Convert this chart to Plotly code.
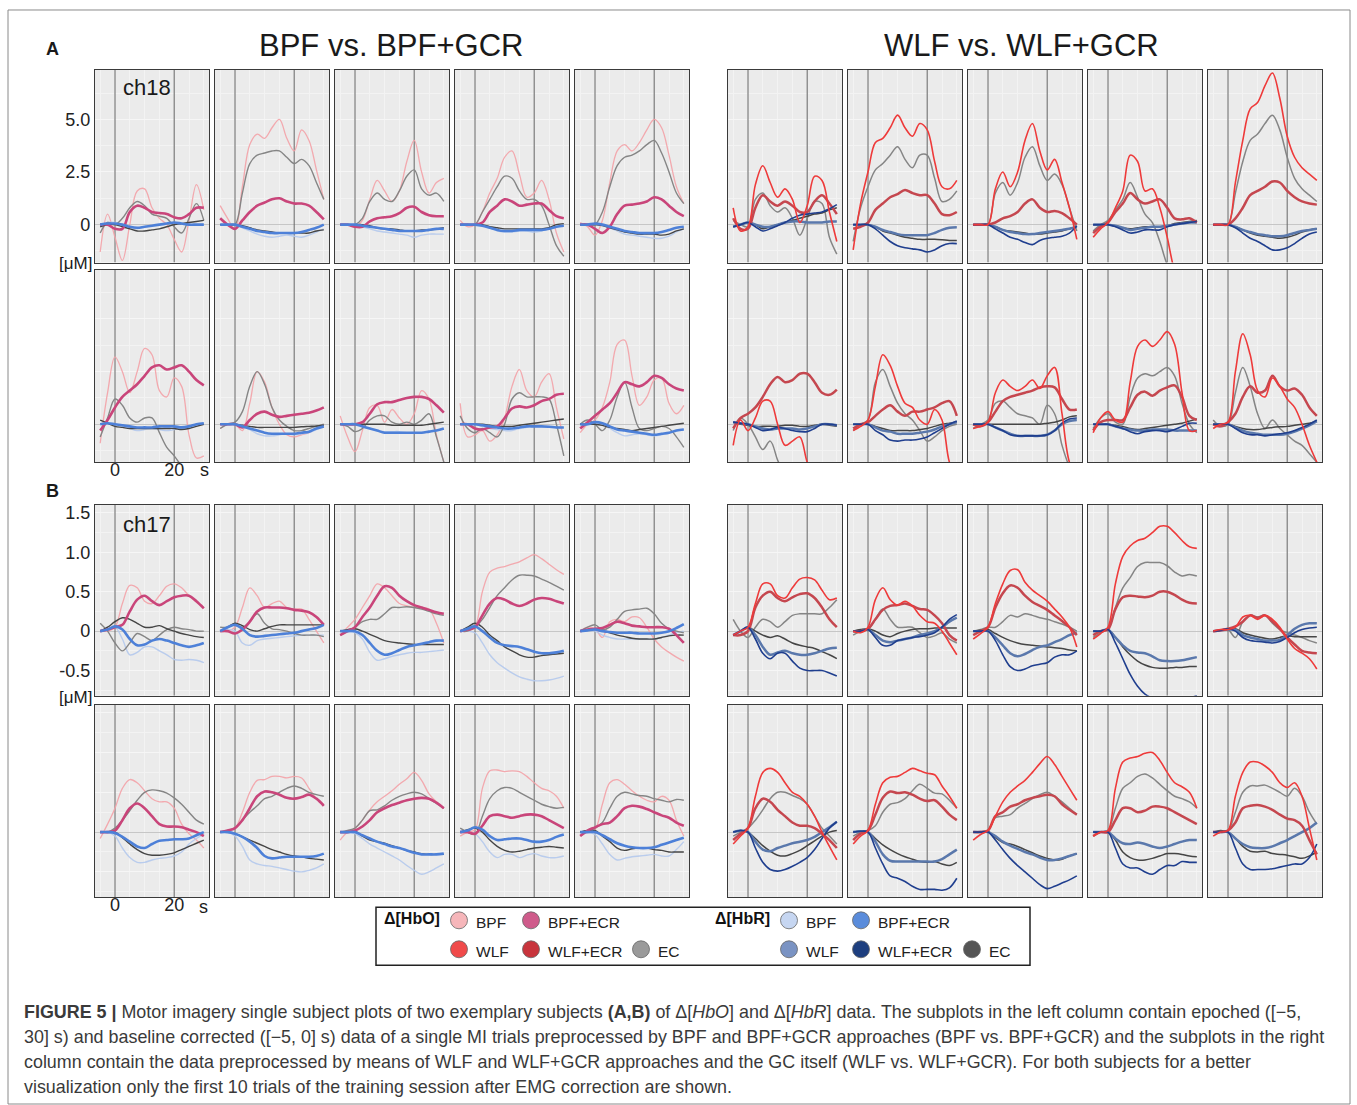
import plotly.graph_objects as go

W, H = 1357, 1105
TIME = [-5, -2.5, 0, 2.5, 5, 7.5, 10, 12.5, 15, 17.5, 20, 22.5, 25, 27.5, 30]

# ---------------- Subject A, left block (BPF vs. BPF+GCR) ----------------
A_BPF_HBO = [
    [-1.3, 0.5, -0.6, -1.7, 0.0, 1.6, 1.7, 0.8, 0.3, 0.0, -0.7, -1.3, 0.2, 1.9, 0.7],
    [0.9, 0.3, -0.2, 1.8, 3.8, 4.3, 4.1, 4.6, 5.0, 4.1, 3.5, 4.5, 4.0, 2.6, 1.2],
    [0.0, 0.0, -0.1, 0.2, 1.2, 2.1, 1.6, 1.1, 1.6, 3.0, 4.0, 2.5, 1.5, 2.0, 2.2],
    [0.2, -0.1, 0.0, 0.6, 1.5, 2.2, 3.2, 3.5, 2.4, 1.3, 1.5, 2.1, 1.2, -0.4, -1.3],
    [0.1, -0.1, -0.5, 0.2, 2.0, 3.5, 3.8, 3.5, 3.9, 4.5, 5.0, 4.6, 3.3, 1.8, 1.0],
    [-0.9, 1.5, 3.2, 2.5, 1.5, 2.5, 3.6, 3.3, 1.6, 1.3, 2.2, 1.8, -0.5, -1.6, -1.5],
    [-0.2, 0.0, 0.0, -0.3, 1.0, 2.5, 2.0, 0.8, 0.0, -0.5, -0.6, -0.5, -0.4, -0.2, 0.0],
    [0.4, -0.6, -1.3, -0.3, 0.8, 0.9, 0.1, 0.7, 0.3, 0.0, 0.5, 1.6, 1.2, -0.5, -1.8],
    [1.0, -0.6, -0.5, -0.3, -0.8, -0.5, 0.3, 1.8, 2.6, 1.6, 1.3, 2.0, 2.4, 0.8, -0.7],
    [-0.4, 0.0, 0.2, 0.8, 2.0, 3.8, 4.0, 2.3, 0.9, 1.3, 2.1, 2.2, 1.0, 0.5, 0.9],
]
A_BPFECR_HBO = [
    [0.0, 0.0, -0.2, -0.2, 0.6, 0.9, 0.8, 0.6, 0.55, 0.5, 0.35, 0.3, 0.5, 0.8, 0.8],
    [0.3, 0.0, -0.2, 0.2, 0.6, 0.9, 1.05, 1.2, 1.25, 1.1, 1.0, 1.0, 0.9, 0.6, 0.25],
    [0.0, 0.0, -0.1, -0.1, 0.15, 0.3, 0.35, 0.4, 0.55, 0.8, 0.85, 0.6, 0.45, 0.4, 0.4],
    [0.0, 0.0, 0.0, 0.1, 0.6, 0.9, 1.2, 1.1, 0.9, 0.95, 1.0, 1.0, 0.7, 0.4, 0.3],
    [0.0, 0.0, -0.2, -0.4, -0.1, 0.5, 0.9, 0.95, 1.0, 1.1, 1.3, 1.2, 0.9, 0.6, 0.4],
    [-0.3, 0.2, 0.8, 1.3, 1.6, 1.9, 2.3, 2.7, 2.8, 2.6, 2.7, 2.8, 2.5, 2.1, 1.85],
    [0.0, 0.0, 0.0, -0.15, 0.2, 0.5, 0.6, 0.45, 0.35, 0.4, 0.45, 0.5, 0.55, 0.65, 0.8],
    [0.0, 0.0, 0.0, 0.1, 0.5, 0.95, 1.05, 1.05, 1.15, 1.25, 1.3, 1.3, 1.2, 0.9, 0.55],
    [0.0, 0.0, -0.2, -0.25, -0.15, -0.1, 0.3, 0.75, 0.85, 0.8, 0.9, 1.1, 1.2, 1.4, 1.45],
    [-0.2, 0.1, 0.4, 0.7, 1.0, 1.5, 2.0, 1.9, 1.8, 2.0, 2.3, 2.2, 1.9, 1.7, 1.6],
]
A_EC_HBO_L = [
    [-0.4, 0.1, 0.0, 0.3, 0.8, 1.1, 0.9, 0.5, 0.4, 0.3, -0.1, -0.4, 0.3, 1.0, 0.2],
    [0.0, 0.0, 0.0, 1.5, 2.9, 3.3, 3.4, 3.5, 3.5, 3.2, 2.9, 3.1, 2.8, 2.0, 1.2],
    [0.0, 0.0, 0.0, 0.3, 1.1, 1.5, 1.2, 1.1, 1.6, 2.3, 2.6, 1.7, 1.4, 1.5, 1.1],
    [0.0, 0.0, 0.0, 0.6, 1.2, 1.8, 2.3, 2.2, 1.6, 1.2, 1.2, 0.9, 0.0, -1.0, -1.5],
    [0.0, 0.0, 0.0, 0.6, 1.8, 2.8, 3.2, 3.3, 3.5, 3.8, 4.0, 3.4, 2.5, 1.5, 1.0],
    [-0.6, 0.3, 1.2, 0.9, 0.3, 0.1, 0.3, 0.3, -0.4, -1.1, -1.5, -2.0, -2.5, -3.0, -3.2],
    [-0.2, 0.0, 0.1, 0.6, 1.8, 2.5, 1.9, 0.8, 0.2, -0.1, -0.3, -0.3, -0.2, -0.1, 0.0],
    [0.0, -0.1, -0.35, -0.2, 0.2, 0.4, 0.4, 0.1, 0.0, 0.1, 0.0, 0.2, 0.5, -0.6, -1.8],
    [0.4, -0.2, -0.4, -0.2, -0.4, -0.6, 0.0, 1.2, 1.5, 1.3, 1.3, 1.3, 1.2, 0.0, -1.5],
    [0.0, 0.2, 0.0, -0.3, 0.2, 1.3, 2.0, 0.8, -0.2, -0.3, -0.2, -0.1, -0.2, -0.6, -1.1],
]
A_BPF_HBR = [
    [-0.05, 0.1, 0.1, 0.0, -0.15, -0.2, -0.1, -0.05, 0.0, 0.05, 0.1, 0.05, 0.0, 0.0, 0.0],
    [0.0, 0.0, 0.0, -0.15, -0.3, -0.45, -0.55, -0.6, -0.55, -0.5, -0.55, -0.6, -0.5, -0.35, -0.2],
    [0.0, 0.0, 0.0, -0.1, -0.2, -0.3, -0.35, -0.4, -0.45, -0.5, -0.6, -0.5, -0.45, -0.45, -0.45],
    [0.0, 0.0, 0.0, -0.05, -0.15, -0.3, -0.35, -0.35, -0.3, -0.3, -0.35, -0.3, -0.2, -0.1, -0.05],
    [0.0, 0.0, 0.05, 0.0, -0.15, -0.3, -0.45, -0.5, -0.55, -0.6, -0.65, -0.65, -0.55, -0.35, -0.2],
    [0.0, 0.05, 0.0, -0.1, -0.2, -0.3, -0.25, -0.2, -0.25, -0.3, -0.25, -0.2, -0.2, -0.05, 0.05],
    [0.0, 0.0, 0.0, -0.1, -0.25, -0.45, -0.55, -0.55, -0.5, -0.45, -0.5, -0.45, -0.4, -0.25, -0.1],
    [0.0, 0.0, 0.0, -0.1, -0.2, -0.3, -0.35, -0.35, -0.35, -0.4, -0.4, -0.4, -0.35, -0.3, -0.2],
    [0.0, 0.0, 0.0, -0.1, -0.2, -0.25, -0.3, -0.3, -0.2, -0.15, -0.1, -0.1, -0.1, -0.15, -0.15],
    [0.0, 0.0, 0.1, 0.0, -0.2, -0.4, -0.55, -0.5, -0.45, -0.5, -0.55, -0.5, -0.4, -0.3, -0.25],
]
A_BPFECR_HBR = [
    [0.0, 0.05, 0.05, 0.0, -0.1, -0.15, -0.1, -0.05, 0.0, 0.05, 0.1, 0.05, 0.0, 0.0, 0.0],
    [0.0, 0.0, 0.0, -0.1, -0.2, -0.3, -0.35, -0.4, -0.4, -0.4, -0.4, -0.35, -0.25, -0.15, 0.0],
    [0.0, 0.0, 0.0, -0.05, -0.1, -0.15, -0.2, -0.25, -0.3, -0.3, -0.3, -0.3, -0.25, -0.2, -0.2],
    [0.0, 0.0, 0.0, -0.05, -0.15, -0.25, -0.3, -0.3, -0.25, -0.25, -0.25, -0.25, -0.2, -0.1, -0.05],
    [0.0, 0.0, 0.05, 0.0, -0.1, -0.2, -0.3, -0.35, -0.4, -0.4, -0.4, -0.35, -0.25, -0.15, -0.1],
    [0.0, 0.05, 0.0, -0.05, -0.1, -0.15, -0.15, -0.15, -0.1, -0.1, -0.1, -0.15, -0.1, 0.0, 0.05],
    [0.0, 0.0, 0.0, -0.1, -0.2, -0.3, -0.4, -0.45, -0.45, -0.45, -0.45, -0.4, -0.35, -0.2, -0.1],
    [0.0, 0.0, 0.0, -0.1, -0.2, -0.3, -0.4, -0.4, -0.4, -0.4, -0.4, -0.4, -0.35, -0.3, -0.2],
    [0.0, 0.0, 0.0, -0.05, -0.1, -0.15, -0.2, -0.2, -0.15, -0.1, -0.1, -0.1, -0.12, -0.15, -0.15],
    [0.0, 0.0, 0.1, 0.05, -0.1, -0.25, -0.3, -0.35, -0.4, -0.45, -0.5, -0.45, -0.4, -0.3, -0.25],
]
A_EC_HBR_L = [
    [-0.1, 0.0, 0.0, -0.1, -0.2, -0.3, -0.3, -0.25, -0.2, -0.1, 0.0, 0.05, 0.1, 0.15, 0.2],
    [0.0, 0.0, 0.0, -0.05, -0.15, -0.25, -0.3, -0.35, -0.4, -0.4, -0.4, -0.4, -0.4, -0.3, -0.25],
    [0.0, 0.0, 0.0, 0.0, -0.05, -0.15, -0.2, -0.2, -0.25, -0.3, -0.3, -0.25, -0.25, -0.2, -0.15],
    [0.0, 0.0, 0.0, 0.0, -0.1, -0.15, -0.2, -0.2, -0.2, -0.2, -0.2, -0.2, -0.15, 0.0, 0.05],
    [0.0, 0.0, 0.0, -0.05, -0.15, -0.25, -0.35, -0.4, -0.45, -0.45, -0.45, -0.5, -0.45, -0.3, -0.2],
    [0.2, 0.05, -0.1, -0.15, -0.2, -0.2, -0.2, -0.2, -0.2, -0.2, -0.2, -0.25, -0.2, -0.1, 0.0],
    [0.0, 0.0, 0.0, -0.05, -0.1, -0.15, -0.15, -0.15, -0.15, -0.15, -0.15, -0.12, -0.1, -0.08, -0.05],
    [0.0, 0.0, 0.0, 0.0, 0.0, 0.0, 0.0, -0.05, -0.05, -0.05, -0.05, -0.05, 0.0, 0.05, 0.1],
    [0.0, 0.0, 0.0, 0.0, -0.05, -0.1, -0.1, -0.1, -0.05, 0.0, 0.05, 0.1, 0.15, 0.2, 0.25],
    [0.0, 0.0, 0.0, -0.05, -0.15, -0.2, -0.25, -0.3, -0.25, -0.2, -0.15, -0.1, -0.05, 0.0, 0.05],
]

# ---------------- Subject A, right block (WLF vs. WLF+GCR) ----------------
A_WLF_HBO = [
    [0.8, -0.3, -0.1, 1.9, 2.8, 2.0, 1.3, 1.7, 1.2, 0.1, 0.9, 2.3, 2.1, 0.6, -0.8],
    [-1.2, 1.0, 2.5, 3.9, 4.1, 4.6, 5.2, 4.6, 4.2, 4.8, 4.5, 3.0, 1.8, 1.7, 2.1],
    [0.0, 0.0, 0.0, 1.7, 2.5, 1.8, 2.5, 4.0, 4.8, 3.5, 2.6, 3.1, 2.0, 0.8, -0.7],
    [-0.6, -0.2, 0.1, 0.8, 1.6, 3.3, 3.0, 1.6, 1.7, 0.8, -0.6, -2.2, -3.0, -3.5, -3.8],
    [0.0, 0.0, 0.0, 2.0, 4.0, 5.5, 5.8, 6.6, 7.2, 6.0, 4.2, 3.2, 2.7, 2.4, 2.1],
    [-1.0, 0.2, -0.3, 0.3, 1.1, 1.1, 0.0, -1.0, -0.8, -0.6, -1.8, -2.5, -3.0, -3.5, -3.8],
    [-0.3, -0.1, 0.2, 1.8, 3.3, 2.8, 1.8, 1.0, 0.8, 0.2, 0.0, 0.7, 0.2, -1.8, -2.5],
    [-0.2, -0.1, 0.1, 1.5, 2.1, 1.8, 1.6, 1.8, 2.1, 1.7, 2.3, 2.7, 0.5, -1.8, -2.5],
    [-0.4, 0.3, 0.6, 0.2, 0.1, 2.0, 3.7, 4.0, 3.7, 4.0, 4.4, 3.8, 1.5, -0.3, -0.3],
    [-0.2, 0.0, 0.1, 2.5, 4.3, 3.3, 1.6, 1.3, 2.2, 1.8, 1.2, 0.8, 0.0, -1.0, -1.8],
]
A_WLFECR_HBO = [
    [0.3, -0.2, -0.2, 0.8, 1.4, 1.1, 0.9, 1.1, 0.9, 0.6, 0.6, 1.1, 1.4, 1.0, 0.5],
    [-0.2, -0.1, 0.1, 0.7, 1.0, 1.3, 1.45, 1.65, 1.5, 1.4, 1.4, 1.0, 0.5, 0.45, 0.6],
    [0.0, 0.0, 0.0, 0.1, 0.3, 0.4, 0.6, 1.0, 1.2, 0.8, 0.6, 0.65, 0.55, 0.3, 0.0],
    [-0.4, -0.1, 0.1, 0.6, 1.0, 1.5, 1.2, 1.0, 1.1, 1.2, 0.8, 0.3, 0.25, 0.3, 0.1],
    [0.0, 0.0, 0.0, 0.3, 0.8, 1.4, 1.6, 1.8, 2.05, 2.0, 1.6, 1.3, 1.1, 1.0, 0.95],
    [-0.2, 0.3, 0.5, 0.8, 1.3, 1.9, 2.25, 2.0, 2.1, 2.4, 2.4, 2.0, 1.5, 1.4, 1.65],
    [-0.2, 0.0, 0.1, 0.4, 0.7, 0.9, 0.6, 0.4, 0.6, 0.6, 0.7, 0.8, 1.0, 1.1, 0.4],
    [0.0, -0.1, 0.1, 0.6, 1.1, 1.3, 1.4, 1.5, 1.6, 1.75, 1.8, 1.75, 1.2, 0.7, 0.7],
    [-0.3, 0.1, 0.2, 0.2, 0.2, 0.8, 1.4, 1.55, 1.35, 1.6, 1.75, 1.85, 1.3, 0.4, 0.2],
    [0.0, -0.1, 0.1, 0.5, 1.3, 1.8, 1.5, 1.6, 2.3, 1.8, 1.6, 1.7, 1.4, 0.8, 0.4],
]
A_EC_HBO_R = [
    [0.2, 0.0, -0.1, 1.2, 1.5, 0.9, 0.6, 0.8, 0.3, -0.5, 0.3, 1.1, 1.0, -0.6, -1.4],
    [-0.8, 0.8, 1.8, 2.6, 2.9, 3.3, 3.7, 3.1, 2.7, 3.3, 3.3, 2.2, 1.1, 1.2, 1.6],
    [0.0, 0.0, 0.0, 1.5, 2.0, 1.4, 2.0, 3.2, 3.7, 2.8, 2.1, 2.4, 1.9, 0.8, -0.3],
    [-0.3, 0.0, 0.2, 0.7, 1.2, 2.0, 1.3, 0.5, 0.1, -0.8, -1.9, -2.5, -3.0, -3.3, -3.5],
    [0.0, 0.0, 0.0, 1.5, 3.0, 4.0, 4.3, 4.8, 5.2, 4.5, 3.2, 2.2, 1.7, 1.4, 1.1],
    [-0.3, 0.3, 0.0, -0.6, -1.2, -0.8, -1.7, -2.5, -3.0, -3.3, -3.5, -3.6, -3.7, -3.8, -3.8],
    [-0.3, 0.0, 0.2, 2.0, 2.6, 1.8, 1.0, 0.5, 0.2, -0.3, -0.8, -0.6, -0.3, -0.1, 0.0],
    [-0.2, 0.0, 0.2, 1.0, 1.1, 0.8, 0.5, 0.4, 0.3, 0.0, 0.9, 0.5, -1.0, -2.0, -2.5],
    [-0.2, 0.3, 0.5, 0.1, 0.0, 1.3, 2.2, 2.4, 2.3, 2.5, 2.7, 2.3, 1.0, 0.0, -0.4],
    [0.2, -0.1, 0.0, 1.5, 2.7, 1.8, 0.5, -0.2, 0.2, -0.2, -0.5, -0.8, -1.0, -1.4, -1.8],
]
A_WLF_HBR = [
    [-0.1, 0.0, 0.1, 0.0, -0.1, -0.1, 0.0, 0.1, 0.15, 0.15, 0.1, 0.1, 0.1, 0.15, 0.15],
    [0.0, 0.0, 0.0, -0.1, -0.25, -0.35, -0.45, -0.5, -0.5, -0.5, -0.5, -0.4, -0.25, -0.15, -0.12],
    [0.0, 0.0, 0.0, -0.1, -0.25, -0.35, -0.4, -0.45, -0.45, -0.4, -0.35, -0.3, -0.25, -0.2, -0.1],
    [0.0, 0.0, 0.0, -0.05, -0.15, -0.25, -0.2, -0.15, -0.1, -0.1, -0.05, 0.0, 0.05, 0.1, 0.1],
    [0.0, 0.0, 0.0, -0.1, -0.25, -0.35, -0.45, -0.5, -0.55, -0.55, -0.5, -0.4, -0.3, -0.25, -0.2],
    [0.1, 0.05, 0.0, -0.1, -0.2, -0.25, -0.2, -0.2, -0.2, -0.25, -0.2, -0.1, 0.0, 0.0, -0.05],
    [0.0, 0.0, 0.0, -0.15, -0.3, -0.35, -0.45, -0.45, -0.45, -0.4, -0.35, -0.25, -0.1, 0.0, 0.1],
    [0.0, 0.0, 0.0, -0.15, -0.3, -0.45, -0.55, -0.55, -0.55, -0.55, -0.5, -0.3, 0.0, 0.15, 0.2],
    [0.0, 0.0, 0.0, -0.1, -0.2, -0.25, -0.3, -0.3, -0.25, -0.25, -0.25, -0.3, -0.3, -0.3, -0.3],
    [0.0, 0.0, 0.0, -0.15, -0.3, -0.4, -0.45, -0.5, -0.5, -0.5, -0.45, -0.35, -0.2, -0.05, 0.15],
]
A_WLFECR_HBR = [
    [-0.1, 0.0, 0.1, -0.1, -0.3, -0.2, -0.05, 0.1, 0.3, 0.45, 0.5, 0.55, 0.6, 0.75, 0.95],
    [0.0, 0.0, 0.0, -0.2, -0.5, -0.8, -1.0, -1.1, -1.15, -1.2, -1.3, -1.2, -1.0, -0.9, -0.9],
    [0.0, 0.0, 0.0, -0.2, -0.4, -0.6, -0.7, -0.85, -0.95, -0.75, -0.65, -0.6, -0.55, -0.4, -0.05],
    [0.0, 0.0, 0.0, -0.1, -0.25, -0.4, -0.35, -0.25, -0.25, -0.25, -0.1, 0.0, 0.05, 0.1, 0.15],
    [0.0, 0.0, 0.0, -0.15, -0.4, -0.65, -0.8, -1.0, -1.2, -1.2, -1.1, -0.9, -0.65, -0.45, -0.35],
    [0.1, 0.05, 0.0, -0.15, -0.3, -0.25, -0.15, -0.2, -0.3, -0.35, -0.35, -0.2, 0.0, 0.0, -0.05],
    [0.0, 0.0, 0.0, -0.3, -0.5, -0.75, -0.8, -0.75, -0.75, -0.7, -0.6, -0.4, -0.2, 0.0, 0.15],
    [0.0, 0.0, 0.0, -0.15, -0.3, -0.5, -0.55, -0.55, -0.55, -0.55, -0.5, -0.3, 0.05, 0.25, 0.3],
    [0.0, 0.0, 0.0, -0.1, -0.2, -0.35, -0.45, -0.35, -0.3, -0.3, -0.35, -0.25, -0.1, 0.05, 0.05],
    [0.0, 0.0, 0.0, -0.2, -0.4, -0.5, -0.5, -0.55, -0.5, -0.45, -0.4, -0.3, -0.15, 0.0, 0.2],
]
A_EC_HBR_R = [
    [-0.1, 0.0, 0.1, 0.0, -0.2, -0.1, 0.0, 0.1, 0.2, 0.3, 0.4, 0.5, 0.55, 0.7, 0.8],
    [0.0, 0.0, 0.0, -0.1, -0.3, -0.4, -0.5, -0.6, -0.65, -0.7, -0.7, -0.7, -0.72, -0.75, -0.75],
    [0.0, 0.0, 0.0, -0.1, -0.25, -0.3, -0.35, -0.4, -0.45, -0.45, -0.4, -0.35, -0.3, -0.2, -0.1],
    [0.0, 0.0, 0.0, -0.05, -0.15, -0.2, -0.15, -0.1, -0.1, -0.1, -0.05, 0.05, 0.1, 0.15, 0.2],
    [0.0, 0.0, 0.0, -0.1, -0.25, -0.4, -0.5, -0.55, -0.6, -0.65, -0.6, -0.5, -0.35, -0.25, -0.2],
    [0.1, 0.0, -0.05, -0.1, -0.1, -0.1, -0.1, -0.05, -0.05, -0.1, -0.1, -0.05, 0.0, -0.05, -0.1],
    [0.0, 0.0, 0.0, -0.1, -0.2, -0.3, -0.3, -0.3, -0.3, -0.25, -0.2, -0.1, 0.0, 0.05, 0.1],
    [0.0, 0.0, 0.0, 0.0, 0.0, 0.0, 0.0, 0.0, 0.0, 0.0, 0.05, 0.1, 0.2, 0.35, 0.4],
    [0.0, 0.0, 0.0, -0.05, -0.1, -0.2, -0.25, -0.2, -0.15, -0.1, -0.05, 0.0, 0.05, 0.15, 0.25],
    [0.0, 0.0, 0.0, -0.1, -0.2, -0.25, -0.25, -0.2, -0.15, -0.12, -0.1, -0.05, 0.0, 0.05, 0.15],
]

# ---------------- Subject B, left block ----------------
B_BPF_HBO = [
    [0.0, 0.0, 0.05, 0.35, 0.58, 0.55, 0.38, 0.35, 0.45, 0.57, 0.6, 0.55, 0.45, 0.37, 0.3],
    [0.0, 0.0, 0.05, 0.3, 0.55, 0.45, 0.3, 0.35, 0.38, 0.3, 0.28, 0.28, 0.15, 0.0, -0.15],
    [-0.05, 0.05, 0.15, 0.3, 0.45, 0.6, 0.55, 0.45, 0.35, 0.32, 0.3, 0.3, 0.28, 0.1, -0.15],
    [0.0, 0.0, 0.05, 0.5, 0.75, 0.8, 0.82, 0.85, 0.88, 0.93, 0.97, 0.92, 0.85, 0.78, 0.72],
    [0.0, 0.05, 0.03, -0.08, 0.12, 0.15, 0.12, 0.18, 0.17, 0.05, -0.1, -0.2, -0.27, -0.33, -0.38],
    [-0.08, 0.1, 0.3, 0.55, 0.66, 0.62, 0.52, 0.42, 0.38, 0.38, 0.3, 0.1, -0.02, -0.1, -0.2],
    [0.0, 0.02, 0.05, 0.25, 0.5, 0.65, 0.66, 0.7, 0.7, 0.68, 0.7, 0.68, 0.55, 0.42, 0.35],
    [-0.1, 0.0, 0.05, 0.15, 0.28, 0.38, 0.45, 0.52, 0.6, 0.67, 0.75, 0.65, 0.48, 0.38, 0.3],
    [-0.05, 0.0, 0.03, 0.55, 0.77, 0.78, 0.76, 0.77, 0.76, 0.7, 0.62, 0.55, 0.52, 0.45, 0.3],
    [-0.05, 0.0, 0.03, 0.35, 0.62, 0.66, 0.6, 0.52, 0.45, 0.4, 0.38, 0.45, 0.4, 0.15, -0.05],
]
B_BPFECR_HBO = [
    [0.0, 0.02, 0.05, 0.08, 0.25, 0.4, 0.45, 0.38, 0.33, 0.38, 0.43, 0.45, 0.45, 0.38, 0.29],
    [0.0, 0.0, -0.03, 0.02, 0.12, 0.25, 0.3, 0.3, 0.3, 0.29, 0.27, 0.26, 0.24, 0.18, 0.08],
    [-0.05, 0.0, 0.05, 0.18, 0.3, 0.45, 0.57, 0.55, 0.45, 0.38, 0.33, 0.3, 0.27, 0.24, 0.22],
    [0.0, 0.02, 0.05, 0.2, 0.35, 0.42, 0.4, 0.35, 0.32, 0.35, 0.4, 0.42, 0.41, 0.38, 0.35],
    [0.0, 0.02, 0.03, 0.04, 0.08, 0.12, 0.1, 0.07, 0.06, 0.05, 0.05, 0.05, 0.03, -0.05, -0.15],
    [0.0, 0.0, 0.02, 0.15, 0.3, 0.36, 0.3, 0.2, 0.1, 0.07, 0.07, 0.06, 0.03, 0.0, -0.05],
    [0.0, 0.02, 0.05, 0.15, 0.3, 0.45, 0.51, 0.5, 0.47, 0.43, 0.42, 0.44, 0.47, 0.42, 0.33],
    [0.0, 0.0, 0.02, 0.07, 0.15, 0.25, 0.3, 0.34, 0.37, 0.4, 0.42, 0.43, 0.42, 0.37, 0.3],
    [0.0, 0.0, -0.02, 0.08, 0.2, 0.22, 0.2, 0.18, 0.2, 0.22, 0.22, 0.2, 0.15, 0.1, 0.05],
    [-0.05, 0.02, 0.06, 0.1, 0.12, 0.2, 0.3, 0.33, 0.32, 0.29, 0.25, 0.21, 0.18, 0.12, 0.08],
]
B_EC_HBO_L = [
    [0.1, 0.0, -0.15, -0.25, -0.15, -0.03, -0.07, -0.12, -0.05, 0.02, 0.05, 0.03, 0.02, 0.0, 0.0],
    [0.05, 0.05, 0.08, 0.05, 0.12, 0.22, 0.1, 0.03, 0.02, 0.0, -0.03, -0.05, -0.05, -0.05, -0.07],
    [-0.05, 0.0, 0.05, 0.12, 0.15, 0.15, 0.22, 0.3, 0.3, 0.31, 0.3, 0.28, 0.25, 0.22, 0.2],
    [0.0, 0.0, 0.05, 0.15, 0.3, 0.45, 0.55, 0.65, 0.71, 0.71, 0.7, 0.66, 0.62, 0.57, 0.52],
    [0.0, 0.05, 0.08, 0.02, 0.05, 0.15, 0.25, 0.27, 0.28, 0.29, 0.22, 0.1, 0.03, 0.0, -0.02],
    [0.0, 0.0, 0.05, 0.15, 0.27, 0.4, 0.5, 0.53, 0.52, 0.49, 0.43, 0.35, 0.25, 0.15, 0.1],
    [0.0, 0.02, 0.05, 0.15, 0.25, 0.33, 0.42, 0.45, 0.5, 0.55, 0.58, 0.55, 0.5, 0.47, 0.45],
    [0.0, 0.02, 0.05, 0.15, 0.27, 0.28, 0.33, 0.4, 0.45, 0.48, 0.5, 0.48, 0.42, 0.36, 0.3],
    [0.05, 0.0, -0.03, 0.2, 0.42, 0.52, 0.56, 0.55, 0.5, 0.45, 0.4, 0.35, 0.32, 0.3, 0.31],
    [0.0, 0.02, 0.05, 0.12, 0.3, 0.45, 0.5, 0.48, 0.46, 0.45, 0.42, 0.4, 0.38, 0.41, 0.4],
]
B_BPF_HBR = [
    [0.0, 0.02, 0.05, -0.1, -0.3, -0.27, -0.2, -0.2, -0.25, -0.3, -0.36, -0.37, -0.36, -0.37, -0.4],
    [0.0, 0.02, 0.0, -0.15, -0.18, -0.12, -0.1, -0.09, -0.08, -0.07, -0.06, -0.05, -0.05, -0.05, -0.05],
    [0.0, 0.0, -0.02, -0.1, -0.27, -0.37, -0.35, -0.32, -0.3, -0.28, -0.27, -0.27, -0.26, -0.25, -0.24],
    [0.0, 0.0, -0.02, -0.15, -0.3, -0.4, -0.47, -0.53, -0.58, -0.61, -0.63, -0.63, -0.62, -0.6, -0.57],
    [0.0, 0.01, 0.0, -0.05, -0.08, -0.1, -0.1, -0.1, -0.1, -0.1, -0.1, -0.08, -0.05, -0.02, 0.0],
    [0.0, 0.0, -0.05, -0.2, -0.32, -0.38, -0.38, -0.35, -0.33, -0.32, -0.3, -0.25, -0.15, -0.08, -0.03],
    [0.0, 0.0, -0.05, -0.18, -0.35, -0.4, -0.42, -0.43, -0.45, -0.47, -0.49, -0.5, -0.48, -0.45, -0.4],
    [0.0, 0.0, -0.02, -0.08, -0.15, -0.2, -0.25, -0.3, -0.35, -0.42, -0.48, -0.53, -0.5, -0.45, -0.4],
    [0.0, 0.0, -0.02, -0.12, -0.25, -0.32, -0.28, -0.28, -0.32, -0.29, -0.27, -0.3, -0.32, -0.32, -0.3],
    [0.0, 0.0, -0.03, -0.15, -0.28, -0.35, -0.33, -0.31, -0.3, -0.29, -0.28, -0.3, -0.3, -0.22, -0.12],
]
B_BPFECR_HBR = [
    [0.0, 0.02, 0.06, 0.02, -0.1, -0.18, -0.17, -0.12, -0.1, -0.12, -0.15, -0.18, -0.2, -0.18, -0.15],
    [0.0, 0.05, 0.08, 0.03, -0.05, -0.07, -0.06, -0.05, -0.04, -0.03, -0.02, 0.0, 0.02, 0.04, 0.08],
    [0.0, 0.0, 0.0, -0.05, -0.15, -0.25, -0.3, -0.28, -0.24, -0.2, -0.18, -0.16, -0.14, -0.12, -0.12],
    [0.0, 0.03, 0.06, 0.0, -0.08, -0.15, -0.18, -0.19, -0.2, -0.23, -0.26, -0.28, -0.28, -0.27, -0.25],
    [0.0, 0.01, 0.02, 0.0, -0.01, -0.02, -0.02, -0.02, -0.03, -0.03, -0.03, -0.02, 0.0, 0.04, 0.09],
    [0.0, 0.0, -0.01, -0.06, -0.12, -0.18, -0.2, -0.15, -0.11, -0.1, -0.09, -0.09, -0.08, -0.04, 0.0],
    [0.0, 0.0, -0.02, -0.06, -0.12, -0.2, -0.3, -0.33, -0.32, -0.31, -0.31, -0.31, -0.31, -0.3, -0.27],
    [0.0, 0.0, 0.0, -0.04, -0.08, -0.12, -0.15, -0.18, -0.2, -0.23, -0.26, -0.28, -0.28, -0.28, -0.27],
    [0.0, 0.02, 0.06, 0.03, -0.05, -0.1, -0.09, -0.08, -0.08, -0.1, -0.12, -0.12, -0.1, -0.06, -0.03],
    [0.0, 0.0, 0.0, -0.04, -0.09, -0.14, -0.17, -0.19, -0.2, -0.2, -0.19, -0.16, -0.13, -0.1, -0.07],
]
B_EC_HBR_L = [
    [0.0, 0.05, 0.12, 0.17, 0.15, 0.1, 0.05, 0.05, 0.07, 0.03, 0.0, -0.03, -0.05, -0.07, -0.08],
    [0.0, 0.05, 0.1, 0.07, 0.02, 0.0, 0.03, 0.06, 0.08, 0.08, 0.08, 0.08, 0.08, 0.08, 0.08],
    [0.0, 0.02, 0.03, 0.0, -0.04, -0.08, -0.12, -0.14, -0.15, -0.16, -0.17, -0.17, -0.17, -0.17, -0.17],
    [0.0, 0.05, 0.1, 0.05, -0.05, -0.12, -0.2, -0.25, -0.3, -0.33, -0.33, -0.31, -0.3, -0.29, -0.28],
    [0.0, 0.02, 0.03, 0.0, -0.02, -0.05, -0.07, -0.09, -0.1, -0.1, -0.1, -0.08, -0.06, -0.05, -0.05],
    [0.0, 0.0, 0.0, -0.07, -0.15, -0.22, -0.27, -0.29, -0.29, -0.28, -0.26, -0.22, -0.18, -0.14, -0.1],
    [0.0, 0.0, -0.02, -0.06, -0.1, -0.14, -0.18, -0.22, -0.25, -0.28, -0.3, -0.31, -0.33, -0.34, -0.35],
    [0.0, 0.0, 0.01, -0.05, -0.1, -0.12, -0.14, -0.17, -0.2, -0.23, -0.25, -0.27, -0.28, -0.28, -0.28],
    [0.0, 0.03, 0.05, 0.0, -0.1, -0.18, -0.23, -0.25, -0.24, -0.22, -0.2, -0.19, -0.18, -0.19, -0.2],
    [0.0, 0.02, 0.02, -0.05, -0.12, -0.2, -0.23, -0.21, -0.2, -0.2, -0.22, -0.23, -0.25, -0.25, -0.25],
]

# ---------------- Subject B, right block ----------------
B_WLF_HBO = [
    [-0.05, 0.0, 0.05, 0.35, 0.6, 0.6, 0.45, 0.42, 0.55, 0.66, 0.68, 0.65, 0.52, 0.4, 0.42],
    [0.0, -0.02, 0.05, 0.4, 0.55, 0.4, 0.33, 0.38, 0.32, 0.2, 0.12, 0.1, 0.0, -0.15, -0.3],
    [-0.1, -0.03, 0.05, 0.35, 0.6, 0.77, 0.78, 0.62, 0.52, 0.45, 0.38, 0.28, 0.18, 0.05, -0.2],
    [-0.1, -0.03, 0.05, 0.6, 0.95, 1.08, 1.15, 1.18, 1.25, 1.33, 1.33, 1.25, 1.15, 1.07, 1.05],
    [0.0, 0.02, 0.02, 0.05, 0.18, 0.2, 0.15, 0.2, 0.15, 0.05, -0.1, -0.22, -0.28, -0.35, -0.48],
    [-0.15, -0.05, 0.05, 0.45, 0.75, 0.8, 0.75, 0.62, 0.5, 0.45, 0.35, 0.2, 0.0, -0.18, -0.35],
    [-0.15, -0.05, 0.02, 0.35, 0.62, 0.69, 0.7, 0.75, 0.8, 0.77, 0.74, 0.72, 0.58, 0.45, 0.3],
    [-0.1, -0.03, 0.02, 0.2, 0.38, 0.5, 0.58, 0.65, 0.75, 0.86, 0.95, 0.85, 0.7, 0.55, 0.4],
    [-0.05, 0.0, 0.02, 0.55, 0.88, 0.93, 0.95, 0.99, 1.0, 0.9, 0.75, 0.62, 0.57, 0.5, 0.3],
    [-0.05, 0.0, 0.02, 0.45, 0.75, 0.88, 0.88, 0.83, 0.75, 0.62, 0.56, 0.62, 0.45, 0.05, -0.35],
]
B_WLFECR_HBO = [
    [-0.05, -0.05, 0.0, 0.3, 0.45, 0.5, 0.42, 0.38, 0.43, 0.47, 0.48, 0.42, 0.3, 0.15, 0.05],
    [0.0, 0.0, 0.03, 0.15, 0.27, 0.32, 0.33, 0.35, 0.32, 0.28, 0.27, 0.2, 0.1, -0.05, -0.12],
    [-0.05, 0.0, 0.05, 0.3, 0.48, 0.58, 0.55, 0.45, 0.37, 0.32, 0.27, 0.2, 0.13, 0.05, -0.05],
    [-0.05, 0.0, 0.02, 0.28, 0.43, 0.45, 0.44, 0.43, 0.45, 0.5, 0.5, 0.46, 0.4, 0.36, 0.35],
    [0.0, 0.01, 0.03, 0.06, 0.12, 0.2, 0.17, 0.2, 0.12, 0.03, -0.08, -0.17, -0.25, -0.27, -0.28],
    [-0.1, -0.02, 0.05, 0.3, 0.42, 0.38, 0.28, 0.2, 0.12, 0.08, 0.08, 0.05, -0.02, -0.1, -0.2],
    [-0.1, -0.02, 0.02, 0.22, 0.43, 0.51, 0.49, 0.5, 0.47, 0.42, 0.39, 0.4, 0.32, 0.22, 0.15],
    [0.0, 0.0, 0.02, 0.2, 0.25, 0.32, 0.35, 0.4, 0.43, 0.45, 0.47, 0.45, 0.35, 0.28, 0.22],
    [-0.05, 0.0, 0.0, 0.15, 0.3, 0.3, 0.25, 0.27, 0.32, 0.32, 0.3, 0.25, 0.2, 0.15, 0.1],
    [0.0, 0.0, 0.02, 0.12, 0.3, 0.33, 0.34, 0.32, 0.28, 0.22, 0.17, 0.15, 0.08, -0.1, -0.28],
]
B_EC_HBO_R = [
    [0.15, 0.0, -0.08, 0.05, 0.15, 0.12, 0.05, 0.12, 0.2, 0.22, 0.22, 0.22, 0.22, 0.3, 0.4],
    [-0.05, 0.0, 0.02, 0.15, 0.28, 0.15, 0.05, 0.05, 0.05, -0.02, -0.08, -0.06, -0.02, -0.1, -0.15],
    [0.0, 0.02, 0.05, 0.05, 0.12, 0.2, 0.18, 0.22, 0.2, 0.17, 0.15, 0.12, 0.09, 0.05, 0.0],
    [-0.08, -0.02, 0.03, 0.3, 0.55, 0.68, 0.82, 0.87, 0.87, 0.87, 0.83, 0.75, 0.7, 0.72, 0.7],
    [0.0, 0.01, 0.02, -0.08, 0.12, 0.2, 0.18, 0.2, 0.1, 0.02, -0.02, -0.05, -0.08, -0.12, -0.15],
    [-0.05, 0.0, 0.05, 0.15, 0.28, 0.42, 0.5, 0.5, 0.46, 0.42, 0.35, 0.2, 0.05, -0.05, -0.15],
    [-0.05, 0.0, 0.02, 0.08, 0.25, 0.35, 0.37, 0.42, 0.52, 0.6, 0.55, 0.49, 0.48, 0.4, 0.3],
    [0.0, 0.0, 0.02, 0.18, 0.2, 0.22, 0.3, 0.36, 0.42, 0.47, 0.5, 0.45, 0.38, 0.3, 0.22],
    [-0.05, 0.0, 0.02, 0.3, 0.55, 0.62, 0.7, 0.73, 0.68, 0.6, 0.52, 0.45, 0.42, 0.38, 0.3],
    [0.0, 0.0, 0.02, 0.25, 0.5, 0.58, 0.58, 0.59, 0.55, 0.5, 0.45, 0.55, 0.45, 0.25, 0.1],
]
B_WLF_HBR = [
    [-0.05, 0.0, 0.05, -0.05, -0.2, -0.3, -0.27, -0.25, -0.28, -0.3, -0.3, -0.28, -0.25, -0.22, -0.21],
    [0.0, 0.0, 0.02, -0.05, -0.12, -0.14, -0.12, -0.1, -0.08, -0.05, -0.03, 0.0, 0.05, 0.12, 0.17],
    [0.0, 0.0, 0.0, -0.08, -0.18, -0.28, -0.32, -0.29, -0.24, -0.2, -0.18, -0.14, -0.1, -0.05, -0.02],
    [0.0, 0.0, 0.02, -0.08, -0.18, -0.25, -0.27, -0.28, -0.32, -0.37, -0.38, -0.38, -0.37, -0.35, -0.33],
    [0.0, 0.01, 0.02, 0.02, -0.05, -0.08, -0.1, -0.12, -0.12, -0.11, -0.05, 0.03, 0.08, 0.1, 0.1],
    [0.0, 0.02, 0.0, -0.12, -0.22, -0.24, -0.2, -0.17, -0.14, -0.12, -0.1, -0.06, 0.0, 0.06, 0.13],
    [0.0, 0.01, 0.0, -0.12, -0.28, -0.36, -0.37, -0.37, -0.37, -0.37, -0.37, -0.37, -0.34, -0.28, -0.22],
    [0.0, 0.0, 0.0, -0.05, -0.12, -0.17, -0.21, -0.25, -0.28, -0.32, -0.35, -0.35, -0.33, -0.3, -0.27],
    [0.0, 0.0, 0.0, -0.08, -0.14, -0.15, -0.13, -0.15, -0.18, -0.2, -0.18, -0.15, -0.12, -0.1, -0.1],
    [0.0, 0.0, 0.0, -0.08, -0.15, -0.19, -0.2, -0.2, -0.18, -0.14, -0.1, -0.05, 0.0, 0.05, 0.12],
]
B_WLFECR_HBR = [
    [-0.05, 0.0, 0.05, -0.1, -0.28, -0.35, -0.28, -0.28, -0.38, -0.47, -0.5, -0.5, -0.5, -0.53, -0.57],
    [0.0, 0.0, 0.02, -0.08, -0.18, -0.18, -0.12, -0.1, -0.08, -0.07, -0.05, -0.02, 0.05, 0.15, 0.21],
    [0.0, 0.0, 0.0, -0.12, -0.3, -0.45, -0.5, -0.48, -0.44, -0.42, -0.4, -0.33, -0.3, -0.3, -0.25],
    [0.0, 0.0, 0.02, -0.15, -0.35, -0.55, -0.7, -0.8, -0.85, -0.88, -0.9, -0.9, -0.88, -0.85, -0.82],
    [0.0, 0.01, 0.03, 0.0, -0.08, -0.12, -0.13, -0.14, -0.15, -0.13, -0.08, -0.02, 0.02, 0.04, 0.05],
    [0.0, 0.02, 0.0, -0.2, -0.38, -0.47, -0.49, -0.47, -0.43, -0.38, -0.32, -0.22, -0.08, 0.05, 0.13],
    [0.0, 0.01, 0.0, -0.2, -0.4, -0.55, -0.58, -0.62, -0.68, -0.72, -0.72, -0.72, -0.73, -0.7, -0.58],
    [0.0, 0.0, 0.0, -0.1, -0.22, -0.33, -0.42, -0.5, -0.58, -0.66, -0.71, -0.68, -0.64, -0.6, -0.55],
    [0.0, 0.0, 0.0, -0.2, -0.4, -0.45, -0.45, -0.5, -0.53, -0.47, -0.42, -0.42, -0.37, -0.38, -0.38],
    [0.0, 0.0, 0.0, -0.2, -0.4, -0.47, -0.47, -0.47, -0.46, -0.44, -0.42, -0.4, -0.4, -0.32, -0.15],
]
B_EC_HBR_R = [
    [-0.05, 0.0, 0.05, 0.0, -0.05, -0.08, -0.06, -0.1, -0.15, -0.18, -0.2, -0.22, -0.26, -0.3, -0.35],
    [0.0, 0.02, 0.03, 0.0, -0.05, -0.07, -0.03, 0.0, 0.02, 0.03, 0.03, 0.04, 0.04, 0.04, 0.04],
    [0.0, 0.01, 0.02, -0.03, -0.08, -0.12, -0.15, -0.17, -0.18, -0.19, -0.2, -0.21, -0.22, -0.24, -0.25],
    [0.0, 0.0, 0.02, -0.08, -0.2, -0.3, -0.38, -0.43, -0.46, -0.47, -0.47, -0.46, -0.46, -0.45, -0.45],
    [0.0, 0.01, 0.02, 0.03, -0.02, -0.05, -0.07, -0.09, -0.1, -0.08, -0.06, -0.07, -0.07, -0.07, -0.07],
    [0.0, 0.02, 0.0, -0.08, -0.17, -0.24, -0.29, -0.3, -0.27, -0.23, -0.17, -0.11, -0.05, 0.0, 0.02],
    [0.0, 0.01, 0.0, -0.08, -0.16, -0.22, -0.27, -0.31, -0.34, -0.37, -0.38, -0.37, -0.4, -0.42, -0.38],
    [0.0, 0.0, 0.01, -0.07, -0.13, -0.15, -0.18, -0.22, -0.26, -0.3, -0.33, -0.35, -0.34, -0.3, -0.27],
    [0.0, 0.0, 0.0, -0.1, -0.25, -0.32, -0.35, -0.35, -0.33, -0.3, -0.27, -0.27, -0.28, -0.3, -0.31],
    [0.0, 0.02, 0.0, -0.08, -0.18, -0.24, -0.25, -0.24, -0.27, -0.28, -0.29, -0.31, -0.33, -0.3, -0.25],
]

# ticks / labels
A_YTICKS = [0, 2.5, 5.0]
A_YTICK_TEXT = ["0", "2.5", "5.0"]
B_YTICKS = [-0.5, 0, 0.5, 1.0, 1.5]
B_YTICK_TEXT = ["-0.5", "0", "0.5", "1.0", "1.5"]
X_TICKS = [0, 20]
X_TICK_TEXT = ["0", "20"]
ONSET_LINES = [0, 20]

# colours
C_BPF_HBO, C_BPFECR_HBO = "#F4A2A8", "#C9457A"
C_BPF_HBR, C_BPFECR_HBR = "#B4C9EE", "#4D80D8"
C_WLF_HBO, C_WLFECR_HBO = "#EE3A3A", "#C5474F"
C_WLF_HBR, C_WLFECR_HBR = "#5A78AC", "#1F3E8E"
C_EC_HBO, C_EC_HBR = "#858585", "#454545"

FONT = "Liberation Sans, Arial, Helvetica, sans-serif"

# ---------------- layout geometry (pixels) ----------------
LEFT_X = [95, 215, 335, 455, 575]
RIGHT_X = [728, 848, 968, 1088, 1208]
PW = 114
ROWS = {"A": [(68, 261), (268, 461)], "B": [(504, 695), (704, 897)]}
YRANGE = {"A": [-1.8, 7.35], "B": [-0.82, 1.6]}
YMINOR = {"A": 1.25, "B": 0.25}
XRANGE = [-6.75, 31.75]


def fx(p):
    return p / W


def fy(p):
    return 1 - p / H


blocks = [
    ("A", "L", [(A_BPF_HBO, C_BPF_HBO, 1.3, 0.9), (A_BPF_HBR, C_BPF_HBR, 1.4, 0.9),
                (A_EC_HBO_L, C_EC_HBO, 1.4, 1), (A_EC_HBR_L, C_EC_HBR, 1.4, 1),
                (A_BPFECR_HBO, C_BPFECR_HBO, 2.6, 1), (A_BPFECR_HBR, C_BPFECR_HBR, 2.6, 1)]),
    ("A", "R", [(A_EC_HBO_R, C_EC_HBO, 1.5, 1), (A_EC_HBR_R, C_EC_HBR, 1.5, 1),
                (A_WLF_HBR, C_WLF_HBR, 2.5, 1), (A_WLFECR_HBO, C_WLFECR_HBO, 2.5, 1),
                (A_WLFECR_HBR, C_WLFECR_HBR, 1.6, 1), (A_WLF_HBO, C_WLF_HBO, 1.6, 1)]),
    ("B", "L", [(B_BPF_HBO, C_BPF_HBO, 1.3, 0.9), (B_BPF_HBR, C_BPF_HBR, 1.4, 0.9),
                (B_EC_HBO_L, C_EC_HBO, 1.4, 1), (B_EC_HBR_L, C_EC_HBR, 1.4, 1),
                (B_BPFECR_HBO, C_BPFECR_HBO, 2.6, 1), (B_BPFECR_HBR, C_BPFECR_HBR, 2.6, 1)]),
    ("B", "R", [(B_EC_HBO_R, C_EC_HBO, 1.5, 1), (B_EC_HBR_R, C_EC_HBR, 1.5, 1),
                (B_WLF_HBR, C_WLF_HBR, 2.5, 1), (B_WLFECR_HBO, C_WLFECR_HBO, 2.5, 1),
                (B_WLFECR_HBR, C_WLFECR_HBR, 1.6, 1), (B_WLF_HBO, C_WLF_HBO, 1.6, 1)]),
]

fig = go.Figure()
layout = {}
shapes = []
k = 0
for subj, side, series in blocks:
    xs = LEFT_X if side == "L" else RIGHT_X
    for r in range(2):
        y0, y1 = ROWS[subj][r]
        for c in range(5):
            k += 1
            trial = r * 5 + c
            xa = "x" if k == 1 else f"x{k}"
            ya = "y" if k == 1 else f"y{k}"
            xkey = "xaxis" if k == 1 else f"xaxis{k}"
            ykey = "yaxis" if k == 1 else f"yaxis{k}"
            first_col = side == "L" and c == 0
            layout[xkey] = dict(
                domain=[fx(xs[c]), fx(xs[c] + PW)], range=XRANGE, anchor=ya,
                tickvals=X_TICKS, ticktext=X_TICK_TEXT, ticks="",
                showticklabels=first_col and r == 1, ticklabelstandoff=-9,
                tickfont=dict(size=18, color="#222", family=FONT),
                showgrid=True, gridcolor="#F6F6F6", gridwidth=1,
                minor=dict(dtick=5, tick0=0, showgrid=True, gridcolor="#F3F3F3", gridwidth=0.8),
                zeroline=False, showline=True, mirror=True, linecolor="#3A3A3A", linewidth=1.4,
                fixedrange=True,
            )
            yt = A_YTICKS if subj == "A" else B_YTICKS
            ytt = A_YTICK_TEXT if subj == "A" else B_YTICK_TEXT
            layout[ykey] = dict(
                domain=[fy(y1), fy(y0)], range=YRANGE[subj], anchor=xa,
                tickvals=yt, ticktext=ytt, ticks="",
                showticklabels=first_col and r == 0,
                tickfont=dict(size=18, color="#222", family=FONT),
                showgrid=True, gridcolor="#F6F6F6", gridwidth=1,
                minor=dict(dtick=YMINOR[subj], tick0=0, showgrid=True, gridcolor="#F3F3F3", gridwidth=0.8),
                zeroline=True, zerolinecolor="#C6C6C6", zerolinewidth=1,
                showline=True, mirror=True, linecolor="#3A3A3A", linewidth=1.4,
                fixedrange=True,
            )
            # stimulus onset / offset markers (drawn first, beneath the data)
            for t in ONSET_LINES:
                fig.add_trace(go.Scatter(
                    x=[t, t], y=YRANGE[subj], xaxis=xa, yaxis=ya, mode="lines",
                    line=dict(color="#707070", width=1.1), showlegend=False, hoverinfo="skip"))
            for data, color, width, op in series:
                fig.add_trace(go.Scatter(
                    x=TIME, y=data[trial], xaxis=xa, yaxis=ya, mode="lines",
                    line=dict(color=color, width=width, shape="spline", smoothing=1.0),
                    opacity=op, showlegend=False, hoverinfo="skip"))

ann = []


def text(x, y, s, size, bold=False, xanchor="center", color="#1A1A1A", yanchor="middle"):
    ann.append(dict(x=fx(x), y=fy(y), xref="paper", yref="paper", text=(f"<b>{s}</b>" if bold else s),
                    showarrow=False, xanchor=xanchor, yanchor=yanchor,
                    font=dict(size=size, color=color, family=FONT)))


text(391, 44, "BPF vs. BPF+GCR", 31)
text(1021, 44, "WLF vs. WLF+GCR", 31)
text(52, 47, "A", 18, bold=True)
text(52, 490, "B", 18, bold=True)
text(121, 86, "ch18", 22, xanchor="left")
text(121, 523, "ch17", 22, xanchor="left")
text(94, 262, "[μM]", 17, xanchor="right")
text(94, 697, "[μM]", 17, xanchor="right")
text(204, 469, "s", 18)
text(203, 907, "s", 18)

# legend box
shapes.append(dict(type="rect", xref="paper", yref="paper", x0=fx(376), x1=fx(1030), y0=fy(965), y1=fy(907),
                   line=dict(color="#222", width=1.5), fillcolor="white"))
LEGEND_ITEMS = [
    (459, 920, "#F6B6BA", "BPF"), (531, 920, "#CF5B8B", "BPF+ECR"),
    (789, 920, "#C6D6F1", "BPF"), (861, 920, "#5A8CDB", "BPF+ECR"),
    (459, 949, "#F04A4A", "WLF"), (531, 949, "#C8343C", "WLF+ECR"), (641, 949, "#9A9A9A", "EC"),
    (789, 949, "#7A93C3", "WLF"), (861, 949, "#1E3F7F", "WLF+ECR"), (972, 949, "#555555", "EC"),
]
R = 8.5
for cx, cy, col, lab in LEGEND_ITEMS:
    shapes.append(dict(type="circle", xref="paper", yref="paper", x0=fx(cx - R), x1=fx(cx + R),
                       y0=fy(cy + R), y1=fy(cy - R), fillcolor=col, line=dict(color="#666", width=0.8)))
    text(cx + 15, cy + 2, lab, 15.5, xanchor="left", color="#222")
text(382, 918, "Δ[HbO]", 16, bold=True, xanchor="left", color="#111")
text(713, 918, "Δ[HbR]", 16, bold=True, xanchor="left", color="#111")

# outer frame
shapes.append(dict(type="rect", xref="paper", yref="paper", x0=fx(8), x1=fx(1350), y0=fy(1104), y1=fy(8),
                   line=dict(color="#8A8A8A", width=1)))

CAPTION = [
    "<b>FIGURE 5 |</b> Motor imagery single subject plots of two exemplary subjects <b>(A,B)</b> of Δ[<i>HbO</i>] and Δ[<i>HbR</i>] data. The subplots in the left column contain epoched ([−5,",
    "30] s) and baseline corrected ([−5, 0] s) data of a single MI trials preprocessed by BPF and BPF+GCR approaches (BPF vs. BPF+GCR) and the subplots in the right",
    "column contain the data preprocessed by means of WLF and WLF+GCR approaches and the GC itself (WLF vs. WLF+GCR). For both subjects for a better",
    "visualization only the first 10 trials of the training session after EMG correction are shown.",
]
for i, line in enumerate(CAPTION):
    text(22, 1012 + 25 * i, line, 17.9, xanchor="left", color="#3A3A3A")

fig.update_layout(
    width=W, height=H, margin=dict(l=0, r=0, t=0, b=0),
    paper_bgcolor="white", plot_bgcolor="#EBEBEB",
    shapes=shapes, annotations=ann, showlegend=False,
    font=dict(family=FONT),
    **layout,
)

fig.write_html("out.html", config={"displayModeBar": False},
               post_script="document.body.style.margin='0';document.body.style.overflow='hidden';")
